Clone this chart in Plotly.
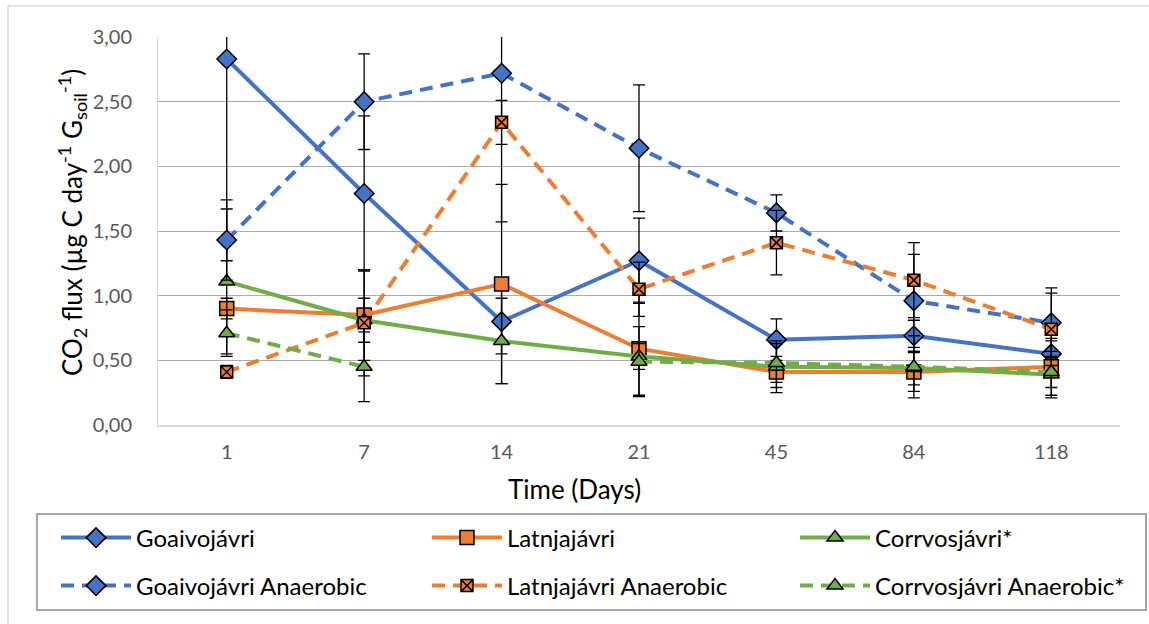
import plotly.graph_objects as go

days = ["1", "7", "14", "21", "45", "84", "118"]

goaivo = [2.83, 1.79, 0.80, 1.27, 0.66, 0.69, 0.55]
goaivo_err = [1.56, 0.60, 0.25, 0.33, 0.16, 0.12, 0.10]
latnja = [0.90, 0.85, 1.09, 0.59, 0.41, 0.41, 0.45]
latnja_err = [0.08, 0.35, 0.77, 0.36, 0.12, 0.15, 0.22]
corrvos = [1.11, 0.81, 0.65, 0.53, 0.45, 0.44, 0.39]
corrvos_err = [0.56, 0.17, 0.33, 0.10, 0.20, 0.13, 0.18]
goaivo_an = [1.43, 2.50, 2.72, 2.14, 1.64, 0.96, 0.79]
goaivo_an_err = [0.31, 0.37, 1.15, 0.49, 0.14, 0.36, 0.27]
latnja_an = [0.41, 0.79, 2.34, 1.05, 1.41, 1.12, 0.74]
latnja_an_err = [0.05, 0.41, 0.17, 0.21, 0.25, 0.29, 0.28]
corrvos_an = [0.71, 0.45, None, 0.49, 0.48, 0.45, 0.41]
corrvos_an_err = [0.18, 0.27, None, 0.27, 0.15, 0.24, 0.12]

BLUE = "#4472C4"
ORANGE = "#ED7D31"
GREEN = "#70AD47"
FONT = "Lato"
DASH = "13px,8px"

series = [
    ("Goaivojávri", goaivo, goaivo_err, BLUE, "solid", "diamond", 15),
    ("Latnjajávri", latnja, latnja_err, ORANGE, "solid", "square", 14),
    ("Corrvosjávri*", corrvos, corrvos_err, GREEN, "solid", "triangle-up", 14),
    ("Goaivojávri Anaerobic", goaivo_an, goaivo_an_err, BLUE, DASH, "diamond", 15),
    ("Latnjajávri Anaerobic", latnja_an, latnja_an_err, ORANGE, DASH, "square-x", 12),
    ("Corrvosjávri Anaerobic*", corrvos_an, corrvos_an_err, GREEN, DASH, "triangle-up", 14),
]

L, R, T, B = 158, 29, 37, 199
W, H = 1149, 624
pw = W - L - R
ph = H - T - B


def px_x(x):
    return (x - L) / pw


def px_y(y):
    return (H - B - y) / ph


# legend slot positions (pixel coordinates of each entry)
ITEMW = 70
legend_cols = [137 - ITEMW - 11, 508 - ITEMW - 11, 876 - ITEMW - 11]
legend_rows = [538, 586]

fig = go.Figure()
legends = {}
for i, (name, vals, errs, color, dash, symbol, size) in enumerate(series):
    key = "legend" if i == 0 else f"legend{i + 1}"
    fig.add_trace(go.Scatter(
        x=days, y=vals, name=name, mode="lines+markers",
        line=dict(color=color, width=4, dash=dash),
        marker=dict(symbol=symbol, size=size, color=color,
                    line=dict(color="black", width=1.5)),
        error_y=dict(type="data", array=errs, visible=True,
                     color="black", thickness=1.3, width=6),
        connectgaps=False,
        legend=key,
    ))
    legends[key] = dict(
        orientation="v",
        x=px_x(legend_cols[i % 3]), y=px_y(legend_rows[i // 3]),
        xanchor="left", yanchor="middle", itemwidth=ITEMW,
        font=dict(family=FONT, size=24, color="black"),
        bgcolor="rgba(0,0,0,0)", borderwidth=0,
    )

fig.update_layout(
    width=W, height=H,
    margin=dict(l=L, r=R, t=T, b=B),
    paper_bgcolor="white", plot_bgcolor="white",
    separators=", ",
    font=dict(family=FONT, color="#595959", size=20),
    showlegend=True,
    **legends,
    xaxis=dict(
        type="category", range=[-0.5, 6.5],
        showgrid=False, showline=True, linecolor="#D9D9D9", linewidth=1.5,
        ticks="", ticklabelstandoff=8,
        tickfont=dict(family=FONT, size=20, color="#595959"),
    ),
    yaxis=dict(
        range=[0, 3], dtick=0.5, tickformat=".2f",
        showgrid=True, gridcolor="#ABABAB", gridwidth=1.3,
        showline=True, linecolor="#D9D9D9", linewidth=1, mirror=False,
        zeroline=False, ticks="", ticklabelstandoff=21,
        tickfont=dict(family=FONT, size=20, color="#595959"),
    ),
    annotations=[
        dict(text="CO<sub>2</sub> flux (µg C day<sup>-1</sup> G<sub>soil</sub><sup>-1</sup>)",
             xref="paper", yref="paper", x=px_x(72), y=px_y(223),
             xanchor="center", yanchor="middle", textangle=-90, showarrow=False,
             font=dict(family=FONT, size=26, color="black")),
        dict(text="Time (Days)",
             xref="paper", yref="paper", x=px_x(574), y=px_y(489),
             xanchor="center", yanchor="middle", showarrow=False,
             font=dict(family=FONT, size=26, color="black")),
    ],
    shapes=[
        dict(type="rect", xref="paper", yref="paper",
             x0=px_x(8), x1=px_x(1160), y0=px_y(640), y1=px_y(6),
             line=dict(color="#D9D9D9", width=1.5), fillcolor="rgba(0,0,0,0)",
             layer="below"),
        dict(type="rect", xref="paper", yref="paper",
             x0=px_x(37), x1=px_x(1146), y0=px_y(610), y1=px_y(514),
             line=dict(color="#A6A6A6", width=2), fillcolor="rgba(0,0,0,0)",
             layer="below"),
    ],
)

fig.write_html("out.html")
